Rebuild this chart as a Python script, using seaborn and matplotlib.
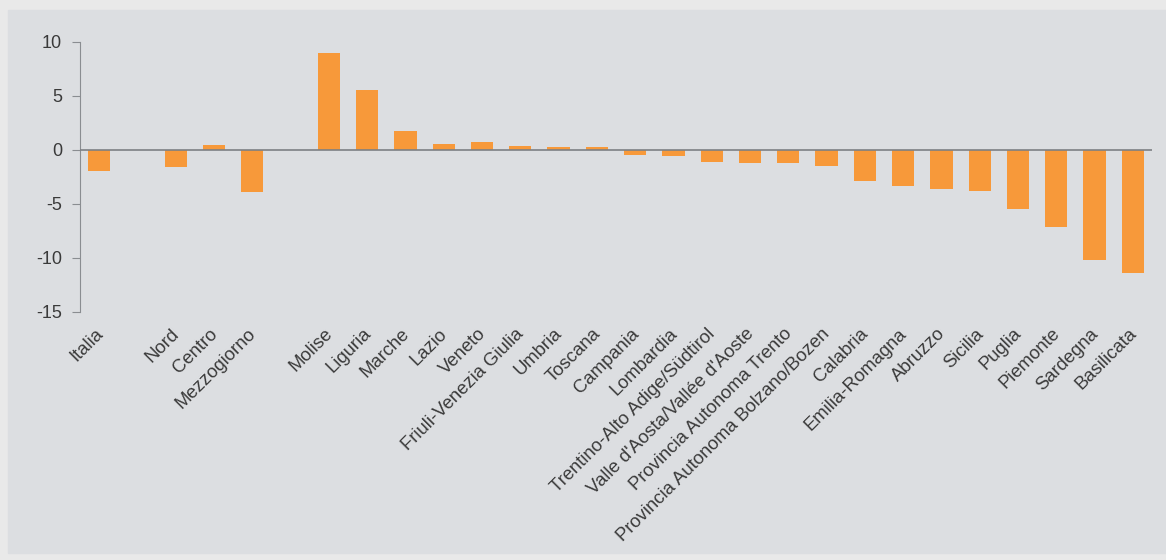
import matplotlib
matplotlib.use("Agg")
import matplotlib.pyplot as plt
import matplotlib.transforms as mtransforms
from matplotlib.patches import Rectangle
import seaborn as sns
import pandas as pd

# categories in display order, blank slots keep the gaps between groups
regions = ["Italia", " ", "Nord", "Centro", "Mezzogiorno", "  ",
           "Molise", "Liguria", "Marche", "Lazio", "Veneto", "Friuli-Venezia Giulia",
           "Umbria", "Toscana", "Campania", "Lombardia", "Trentino-Alto Adige/Südtirol",
           "Valle d'Aosta/Vallée d'Aoste", "Provincia Autonoma Trento",
           "Provincia Autonoma Bolzano/Bozen", "Calabria", "Emilia-Romagna", "Abruzzo",
           "Sicilia", "Puglia", "Piemonte", "Sardegna", "Basilicata"]
names = [r for r in regions if r.strip()]
values = [-1.9, -1.6, 0.5, -3.9,
          9.0, 5.6, 1.8, 0.6, 0.7, 0.4,
          0.3, 0.25, -0.5, -0.6, -1.15,
          -1.2, -1.2,
          -1.45, -2.9, -3.3, -3.6,
          -3.75, -5.5, -7.1, -10.2, -11.4]

df = pd.DataFrame({"regione": names, "valore": values})

bg = "#dcdee1"
sns.set_style("white")
plt.rcParams['font.family'] = ['Liberation Sans', 'DejaVu Sans']
plt.rcParams['axes.unicode_minus'] = False

fig = plt.figure(figsize=(11.66, 5.6), dpi=100, facecolor="#e9e9e9")
fig.patches.append(Rectangle((8/1166, 7/560), 1 - 8/1166, 1 - 17/560,
                             transform=fig.transFigure, color=bg, zorder=-10))
ax = fig.add_axes([80/1166, 1 - 312/560, 1072/1166, 270/560])
ax.set_facecolor(bg)

sns.barplot(data=df, x="regione", y="valore", order=regions, color="#f7993a",
            saturation=1, width=0.58, linewidth=0, ax=ax)

ax.axhline(0, color="#7d8084", lw=1.2, zorder=3)
ax.set_ylim(-15, 10)
ax.set_yticks([-15, -10, -5, 0, 5, 10])
ax.set_xlim(-0.5, len(regions) - 0.5)
ax.set_xlabel("")
ax.set_ylabel("")

for s in ["top", "right", "bottom"]:
    ax.spines[s].set_visible(False)
ax.spines["left"].set_color("#8a8d91")
ax.tick_params(axis="y", left=True, length=6, color="#8a8d91", labelsize=13,
               labelcolor="#3a3a3a", pad=7)
ax.tick_params(axis="x", bottom=False, pad=6)
shift = mtransforms.ScaledTranslation(-5/100, 0, fig.dpi_scale_trans)
for lab in ax.get_xticklabels():
    lab.set_rotation(45)
    lab.set_ha("right")
    lab.set_rotation_mode("anchor")
    lab.set_fontsize(13.3)
    lab.set_color("#3a3a3a")
    lab.set_transform(lab.get_transform() + shift)

fig.savefig("out.png", dpi=100, facecolor=fig.get_facecolor())
